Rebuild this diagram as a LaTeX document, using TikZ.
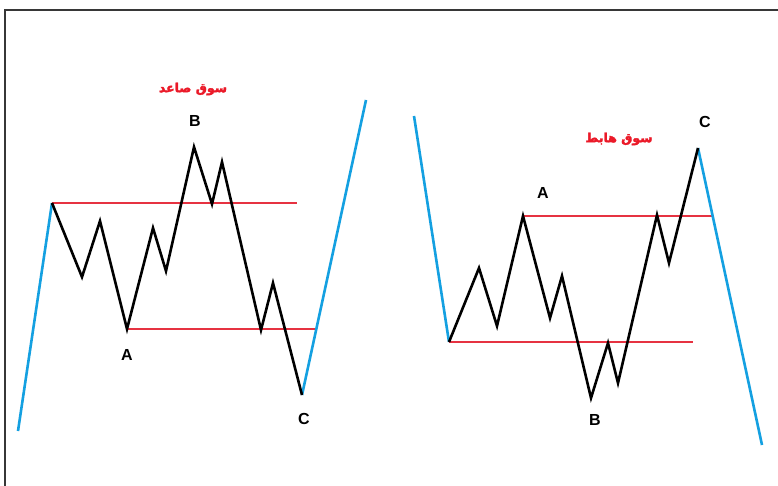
\documentclass[tikz,border=0pt]{standalone}
\usepackage{fontspec}
\setmainfont{Liberation Sans}
\TeXXeTstate=1
\newfontfamily\arabicfont[Script=Arabic, FakeBold=2.5]{DejaVu Sans}
\definecolor{wblue}{RGB}{20,160,225}
\definecolor{wred}{RGB}{230,50,65}
\definecolor{tred}{RGB}{235,25,40}
\definecolor{frame}{RGB}{55,55,55}
\tikzset{
  wave/.style={line width=2.6pt, line join=miter, black},
  trend/.style={line width=2.6pt, wblue},
  level/.style={line width=1.1pt, wred},
  letter/.style={font=\bfseries\fontsize{16}{16}\selectfont, inner sep=0pt},
  title/.style={font=\arabicfont\bfseries\fontsize{12.5}{12.5}\selectfont, text=tred, inner sep=0pt},
}
\begin{document}
\begin{tikzpicture}[x=1pt,y=-1pt]
\useasboundingbox (0,0) rectangle (778,486);
\fill[white] (0,0) rectangle (778,486);
% frame
\draw[frame, line width=2pt] (5,487) -- (5,10) -- (779,10);

% ---- left chart (up market)
\coordinate (L0) at (18,431);
\coordinate (L1) at (52,203);
\coordinate (L2) at (82,277);
\coordinate (L3) at (100,221);
\coordinate (LA) at (127,329);
\coordinate (L5) at (153,228);
\coordinate (L6) at (166,271);
\coordinate (LB) at (194,147);
\coordinate (L8) at (212,204);
\coordinate (L9) at (222,162);
\coordinate (L10) at (261,330);
\coordinate (L11) at (273,283);
\coordinate (LC) at (302,395);
\coordinate (L13) at (366,100);
\coordinate (Lr1) at (297,203);
\coordinate (Lr2) at (315,329);

\draw[level] (L1) -- (Lr1);
\draw[level] (LA) -- (Lr2);
\draw[trend] (L0) -- (L1);
\draw[trend] (LC) -- (L13);
\draw[wave] (L1) -- (L2) -- (L3) -- (LA) -- (L5) -- (L6) -- (LB) -- (L8) -- (L9) -- (L10) -- (L11) -- (LC);

\node[letter] (lbB) at (195,121) {B};
\node[letter] (lbA) at (127,355) {A};
\node[letter] (lbC) at (304,419) {C};
\node[title] (lt) at (193,89) {\beginR سوق صاعد\endR};

% ---- right chart (down market)
\coordinate (R0) at (414,116);
\coordinate (R1) at (449,342);
\coordinate (R2) at (479,268);
\coordinate (R3) at (497,326);
\coordinate (RA) at (523,216);
\coordinate (R5) at (550,318);
\coordinate (R6) at (562,276);
\coordinate (RB) at (591,398);
\coordinate (R8) at (608,343);
\coordinate (R9) at (618,383);
\coordinate (R10) at (657,215);
\coordinate (R11) at (669,263);
\coordinate (RC) at (698,148);
\coordinate (R13) at (762,445);
\coordinate (Rr1) at (712,216);
\coordinate (Rr2) at (693,342);

\draw[level] (RA) -- (Rr1);
\draw[level] (R1) -- (Rr2);
\draw[trend] (R0) -- (R1);
\draw[trend] (RC) -- (R13);
\draw[wave] (R1) -- (R2) -- (R3) -- (RA) -- (R5) -- (R6) -- (RB) -- (R8) -- (R9) -- (R10) -- (R11) -- (RC);

\node[letter] (rbA) at (543,193) {A};
\node[letter] (rbB) at (595,420) {B};
\node[letter] (rbC) at (705,122) {C};
\node[title] (rt) at (619,139) {\beginR سوق هابط\endR};
\end{tikzpicture}
\end{document}
